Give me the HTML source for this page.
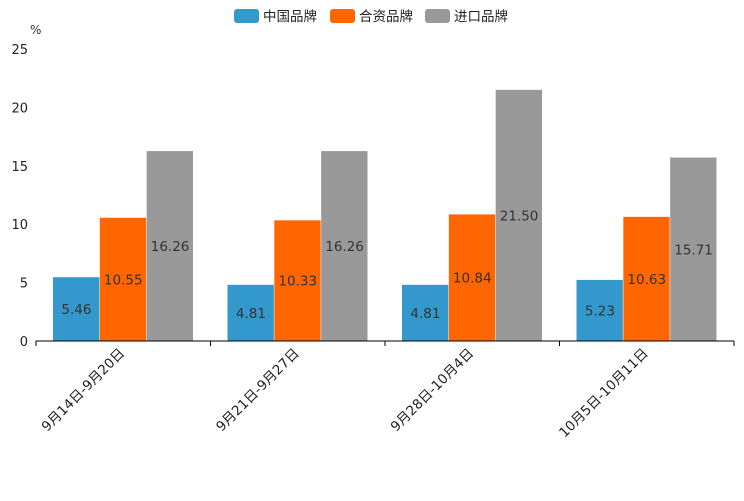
<!DOCTYPE html>
<html><head><meta charset="utf-8"><style>
body{margin:0;background:#fff;}
svg text{font-family:"DejaVu Sans","Noto Sans CJK SC",sans-serif;}
</style></head><body>
<svg id="chart" width="744" height="496">
<g id="legend"></g>
<text x="30" y="34" font-size="12" fill="#333">%</text>
<g id="yaxis"></g>
<g id="bars"></g>
<g id="xaxis"></g>
</svg>
<script>
const categories=["9月14日-9月20日","9月21日-9月27日","9月28日-10月4日","10月5日-10月11日"];
const seriesNames=["中国品牌","合资品牌","进口品牌"];
const chinaValues=[5.46,4.81,4.81,5.23];
const jvValues=[10.55,10.33,10.84,10.63];
const importValues=[16.26,16.26,21.50,15.71];
const yTicks=[0,5,10,15,20,25];
const colors=["#3399cc","#ff6600","#999999"];
const series=[chinaValues,jvValues,importValues];
const NS="http://www.w3.org/2000/svg";
const x0=36,x1=734,y0=341,yTop=49,yMax=25;
const bandW=(x1-x0)/categories.length;
function ys(v){return y0-(v/yMax)*(y0-yTop);}
function mk(tag,attrs,parent){const e=document.createElementNS(NS,tag);for(const k in attrs)e.setAttribute(k,attrs[k]);parent.appendChild(e);return e;}
const yax=document.getElementById('yaxis');
yTicks.forEach(t=>{const tx=mk('text',{x:28,y:ys(t)+5,'text-anchor':'end','font-size':13,fill:'#222'},yax);


tx.textContent=t;});
const xax=document.getElementById('xaxis');
const ax=mk('line',{x1:x0,x2:x1,y1:y0,y2:y0,stroke:'#000','stroke-width':1},xax);


for(let i=0;i<=categories.length;i++){const x=x0+i*bandW;
const tk=mk('line',{x1:x,x2:x,y1:y0,y2:y0+5,stroke:'#000'},xax);

}
const bars=document.getElementById('bars');
const pad=17,bw=(bandW-2*pad)/3;
categories.forEach((c,i)=>{
 const cx=x0+i*bandW+bandW/2;
 const lb=mk('text',{x:0,y:0,'text-anchor':'end','font-size':13.5,fill:'#222',transform:`translate(${cx+2},${y0+13}) rotate(-45)`},xax);
 
 
 lb.textContent=c;
 series.forEach((s,j)=>{
  const v=s[i];const x=x0+i*bandW+pad+j*bw;
  const r=mk('rect',{x:x,y:ys(v),width:bw-0.5,height:y0-ys(v),fill:colors[j]},bars);
  
  
  const t=mk('text',{x:x+bw/2,y:(ys(v)+y0)/2+5,'text-anchor':'middle','font-size':13.5,fill:'#333'},bars);
  
  
  t.textContent=v.toFixed(2);
 });
});
const lg=document.getElementById('legend');
const lx=[234,330,425];
seriesNames.forEach((n,j)=>{
 const r=mk('rect',{x:lx[j],y:9,width:25,height:14,rx:3,fill:colors[j]},lg);
 
 
 const t=mk('text',{x:lx[j]+29,y:21,'font-size':13.5,fill:'#222'},lg);
 
 
 t.textContent=n;
});
</script>
</body></html>
